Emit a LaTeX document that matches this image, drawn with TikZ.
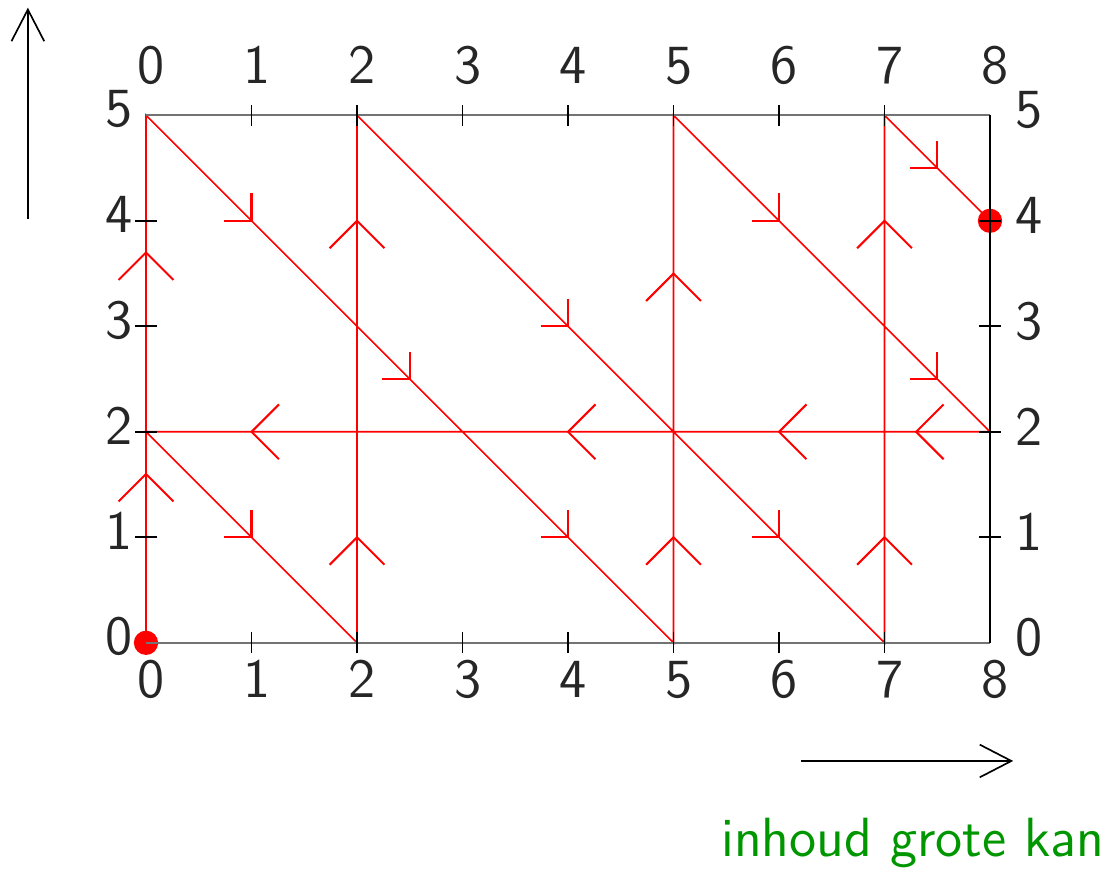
\documentclass[tikz,border=0pt]{standalone}
\usetikzlibrary{arrows.meta}

\definecolor{groen}{RGB}{0,150,0}

% open arrow heads on the red path
\newcommand{\pijlop}[1]{\draw[punt, shift={(#1)}] (-0.26,-0.26) -- (0,0) -- (0.26,-0.26);}
\newcommand{\pijllinks}[1]{\draw[punt, shift={(#1)}] (0.26,0.26) -- (0,0) -- (0.26,-0.26);}
\newcommand{\pijlschuin}[1]{\draw[punt, shift={(#1)}] (-0.26,0) -- (0,0) -- (0,0.26);}

\begin{document}
\begin{tikzpicture}[
    x=1cm, y=1cm,
    pad/.style={red, line width=0.45pt},
    punt/.style={red, line width=0.55pt},
    as/.style={line width=0.45pt},
    getal/.style={font=\sffamily\fontsize{14.9}{18}\selectfont, inner sep=0pt, text=black!85},
    richting/.style={line width=0.45pt, -{Straight Barb[length=3mm, width=3.1mm]}}
]
\useasboundingbox (-1.384,-2.139) rectangle (9.185,6.093);

% -------------------------
% Path of the red route
% -------------------------
\coordinate (p0) at (0,0);
\coordinate (p1) at (0,5);
\coordinate (p2) at (5,0);
\coordinate (p3) at (5,5);
\coordinate (p4) at (8,2);
\coordinate (p5) at (0,2);
\coordinate (p6) at (2,0);
\coordinate (p7) at (2,5);
\coordinate (p8) at (7,0);
\coordinate (p9) at (7,5);
\coordinate (p10) at (8,4);

\draw[pad] (p0) -- (p1) -- (p2) -- (p3) -- (p4) -- (p5) -- (p6)
    -- (p7) -- (p8) -- (p9) -- (p10);

% arrow heads
\pijlop{0,1.6} \pijlop{0,3.7}
\pijlop{2,1}   \pijlop{2,4}
\pijlop{5,1}   \pijlop{5,3.5}
\pijlop{7,1}   \pijlop{7,4}
\pijllinks{1,2} \pijllinks{4,2} \pijllinks{6,2} \pijllinks{7.3,2}
\pijlschuin{1,4} \pijlschuin{2.5,2.5} \pijlschuin{4,1}
\pijlschuin{1,1}
\pijlschuin{4,3} \pijlschuin{6,1}
\pijlschuin{6,4} \pijlschuin{7.5,2.5}
\pijlschuin{7.5,4.5}

% start and end
\fill[red] (p0) circle (0.115);
\fill[red] (p10) circle (0.115);

% -------------------------
% Frame, ticks and numbers
% -------------------------
\draw[as, black!55] (p0) -- (8,0);
\draw[as, black!55] (p1) -- (8,5);
\draw[as] (8,0) -- (8,5);

\foreach \i in {1,...,7} {
    \draw[as] (\i,-0.1) -- (\i,0.1);
    \draw[as] (\i,4.9) -- (\i,5.1);
}
\foreach \j in {1,...,4} {
    \draw[as] (-0.1,\j) -- (0.1,\j);
    \draw[as] (7.9,\j) -- (8.1,\j);
}

\foreach \i in {0,...,8} {
    \node[getal, anchor=base] (boven\i) at (\i+0.05,5.30) {\i};
    \node[getal, anchor=base] (onder\i) at (\i+0.05,-0.52) {\i};
}
\foreach \j in {0,...,5} {
    \node[getal] (links\j) at (-0.26,\j+0.06) {\j};
    \node[getal] (rechts\j) at (8.37,\j+0.05) {\j};
}

% -------------------------
% Direction arrows and caption
% -------------------------
\coordinate (xa) at (6.21,-1.12);
\coordinate (xb) at (8.22,-1.12);
\draw[richting] (xa) -- (xb);

\coordinate (ya) at (-1.12,4.02);
\coordinate (yb) at (-1.12,6.02);
\draw[richting] (ya) -- (yb);

\node[font=\sffamily\fontsize{14.9}{18}\selectfont, text=groen, inner sep=0pt,
    anchor=base east] (naam) at (9.09,-2.03) {inhoud grote kan};

\end{tikzpicture}
\end{document}
